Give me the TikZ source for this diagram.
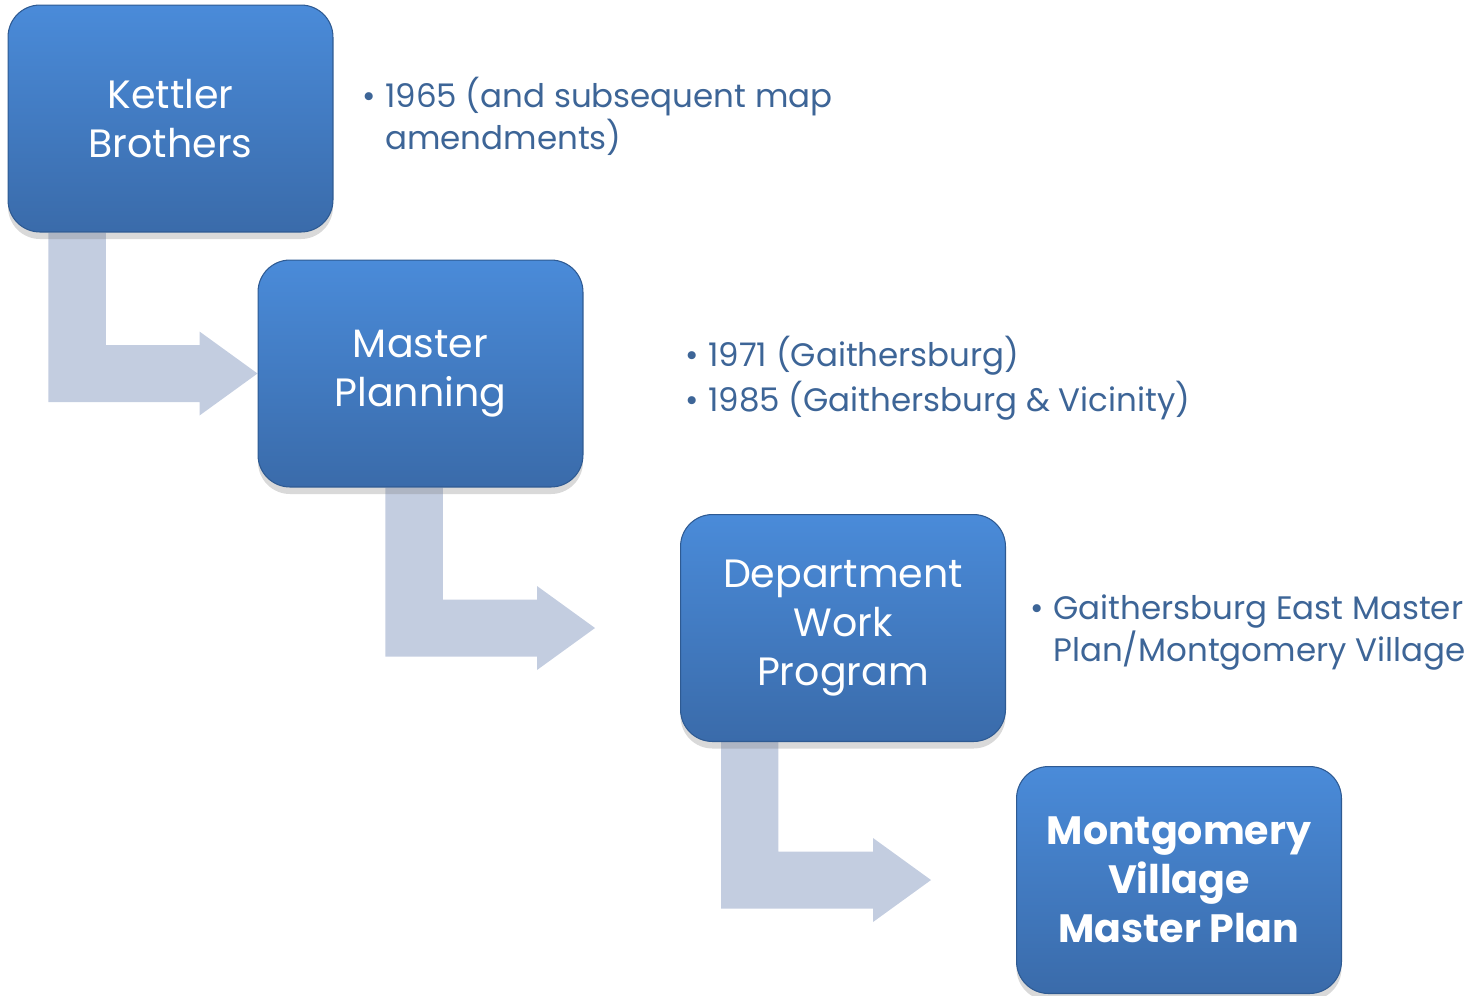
\documentclass[tikz,border=0pt]{standalone}
\usepackage{fontspec}
\setmainfont{Poppins}
\usetikzlibrary{calc,shadows,backgrounds}

\definecolor{boxtop}{HTML}{4A8BD9}
\definecolor{boxbot}{HTML}{3A6BAA}
\definecolor{boxline}{HTML}{2E5A92}
\definecolor{arrowfill}{HTML}{C3CDE0}
\definecolor{notecolor}{HTML}{3D6597}

\tikzset{
  stagebox/.style={rectangle, rounded corners=0.64cm, minimum width=6.5cm,
    minimum height=4.54cm, top color=boxtop, bottom color=boxbot,
    draw=boxline, line width=0.6pt, text=white, align=center,
    font=\fontsize{22.5}{28}\selectfont,
    drop shadow={shadow xshift=0pt, shadow yshift=-4pt, opacity=0.3}},
  notetext/.style={anchor=base west, text=notecolor, inner sep=0pt,
    font=\fontsize{18.5}{22.7}\selectfont},
}

% seta dobrada: origem, destino, recuo da haste, folga da ponta
\newcommand{\bendarrow}[4]{%
  \fill[arrowfill] let \p1=(#1.south west), \p2=($(#2.west)-(#4,0)$) in
    (\x1+#3,\y1) -- (\x1+#3,\y2-0.57cm) -- (\x2-1.16cm,\y2-0.57cm)
    -- (\x2-1.16cm,\y2-0.84cm) -- (\p2) -- (\x2-1.16cm,\y2+0.84cm)
    -- (\x2-1.16cm,\y2+0.57cm) -- (\x1+#3+1.15cm,\y2+0.57cm)
    -- (\x1+#3+1.15cm,\y1) -- cycle;
}
\newcommand{\bul}{\makebox[0.46cm][l]{\textbullet}}

\begin{document}
\begin{tikzpicture}[x=0.02cm, y=-0.02cm]
\useasboundingbox (0,0) rectangle (1476,995);

% Caixas
\node (kettler) [stagebox] at (170.5,118.5) {Kettler\\Brothers};
\node (planning) [stagebox] at (420.5,373.5) {Master\\Planning};
\node (program) [stagebox] at (843,628) {Department\\Work\\Program};
\node (village) [stagebox, font=\fontsize{22.5}{28}\selectfont\bfseries] at (1179,880) {Montgomery\\Village\\Master Plan};

% Setas
\begin{scope}[on background layer]
\bendarrow{kettler}{planning}{0.82cm}{0}
\bendarrow{planning}{program}{2.56cm}{85}
\bendarrow{program}{village}{0.82cm}{85}
\end{scope}

% Notas
\node (note1) [notetext] at (362,107) {\begin{tabular}[t]{@{}l@{}}
  \bul 1965 (and subsequent map\\
  \hspace{0.46cm}amendments)\end{tabular}};
\node (note2) [notetext] at (685,366) {\begin{tabular}[t]{@{}l@{}}
  \bul 1971 (Gaithersburg)\\[2pt]
  \bul 1985 (Gaithersburg \& Vicinity)\end{tabular}};
\node (note3) [notetext] at (1030,619) {\begin{tabular}[t]{@{}l@{}}
  \bul Gaithersburg East Master\\
  \hspace{0.46cm}Plan/Montgomery Village\end{tabular}};

\end{tikzpicture}
\end{document}
